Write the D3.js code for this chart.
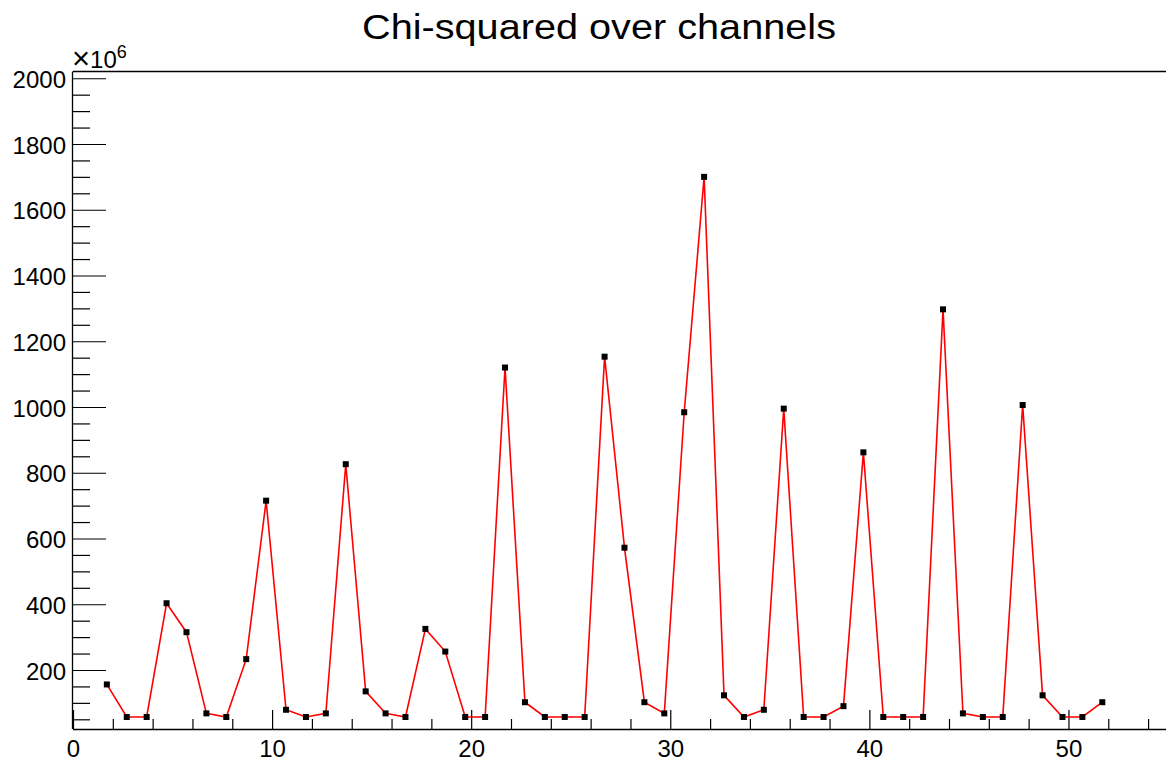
<!DOCTYPE html>
<html>
<head>
<meta charset="utf-8">
<script src="https://cdn.jsdelivr.net/npm/d3@7"></script>
<style>
  html, body { margin: 0; padding: 0; background: #fff; }
  svg { display: block; }
  text { font-family: "Liberation Sans", Arial, Helvetica, sans-serif; fill: #000; }
</style>
</head>
<body>
<svg id="chart" width="1166" height="762"></svg>
<script>
// ---- data ----
const channels = [1.7, 2.7, 3.7, 4.7, 5.7, 6.7, 7.7, 8.7, 9.7, 10.7,
                  11.7, 12.7, 13.7, 14.7, 15.7, 16.7, 17.7, 18.7, 19.7, 20.7,
                  21.7, 22.7, 23.7, 24.7, 25.7, 26.7, 27.7, 28.7, 29.7, 30.7,
                  31.7, 32.7, 33.7, 34.7, 35.7, 36.7, 37.7, 38.7, 39.7, 40.7,
                  41.7, 42.7, 43.7, 44.7, 45.7, 46.7, 47.7, 48.7, 49.7, 50.7,
                  51.7];
const chi2 = [156, 57, 57, 403, 315, 68, 57, 233, 715, 79,
              57, 68, 826, 135, 68, 57, 325, 256, 57, 57,
              1120, 102, 57, 57, 57, 1153, 572, 102, 68, 984,
              1700, 123, 57, 79, 995, 57, 57, 90, 862, 57,
              57, 57, 1297, 68, 57, 57, 1006, 123, 57, 57,
              102];
const xMajorTicks = [0, 10, 20, 30, 40, 50];
const yMajorTicks = [200, 400, 600, 800, 1000, 1200, 1400, 1600, 1800, 2000];
const titleText = "Chi-squared over channels";

// ---- layout ----
const svg = d3.select("#chart");
const mLeft = 73, mRight = 1168, mTop = 71.5, mBottom = 729;

const x = d3.scaleLinear().domain([0, 55]).range([mLeft, mRight]);
const y = d3.scaleLinear().domain([20.5, 2020.5]).range([mBottom, mTop]);

// minor tick values derived from axis ranges
const xMinor = d3.range(0, 55, 2).filter(v => v % 10 !== 0);
const yMinor = d3.range(50, 2001, 50).filter(v => v % 200 !== 0);

// frame (top line)
svg.append("line")
  .attr("x1", mLeft).attr("x2", 1166)
  .attr("y1", mTop).attr("y2", mTop)
  .attr("stroke", "#000").attr("stroke-width", 1.3);

// x axis
const xAxisMajor = d3.axisBottom(x).tickValues(xMajorTicks).tickSize(-19).tickPadding(11)
  .tickFormat(d3.format("d"));
const gx = svg.append("g").attr("transform", `translate(0,${mBottom})`).call(xAxisMajor);
gx.select(".domain").attr("d", `M${mLeft},0.5H1166`).attr("stroke", "#000").attr("stroke-width", 1.3);
gx.selectAll(".tick line").attr("stroke", "#000").attr("stroke-width", 1.2);
gx.selectAll(".tick text").attr("font-size", 24).attr("fill", "#000");

const xAxisMinor = d3.axisBottom(x).tickValues(xMinor).tickSize(-10).tickFormat("");
const gxm = svg.append("g").attr("transform", `translate(0,${mBottom})`).call(xAxisMinor);
gxm.select(".domain").remove();
gxm.selectAll(".tick line").attr("stroke", "#000").attr("stroke-width", 1.2);

// y axis
const yAxisMajor = d3.axisLeft(y).tickValues(yMajorTicks).tickSize(-33).tickPadding(7)
  .tickFormat(d3.format("d"));
const gy = svg.append("g").attr("transform", `translate(${mLeft},0)`).call(yAxisMajor);
gy.select(".domain").attr("d", `M-0.5,${mTop}V${mBottom}`).attr("stroke", "#000").attr("stroke-width", 1.3);
gy.selectAll(".tick line").attr("stroke", "#000").attr("stroke-width", 1.2);
gy.selectAll(".tick text").attr("font-size", 24).attr("dy", "0.38em").attr("fill", "#000");

const yAxisMinor = d3.axisLeft(y).tickValues(yMinor).tickSize(-17).tickFormat("");
const gym = svg.append("g").attr("transform", `translate(${mLeft},0)`).call(yAxisMinor);
gym.select(".domain").remove();
gym.selectAll(".tick line").attr("stroke", "#000").attr("stroke-width", 1.2);

// exponent label
const expo = svg.append("text").attr("x", 72).attr("y", 68).attr("font-size", 24);
expo.append("tspan").attr("font-size", 31).attr("dy", 1).text("\u00d7");
expo.append("tspan").attr("dy", -1).text("10");
expo.append("tspan").attr("dy", -10).attr("font-size", 18).text("6");

// title
svg.append("text")
  .attr("x", 599).attr("y", 39)
  .attr("text-anchor", "middle")
  .attr("font-size", 35)
  .attr("textLength", 474)
  .attr("lengthAdjust", "spacingAndGlyphs")
  .text(titleText);

// data line
const pts = channels.map((c, i) => [c, chi2[i]]);
const line = d3.line().x(d => x(d[0])).y(d => y(d[1]));
svg.append("path")
  .datum(pts)
  .attr("d", line)
  .attr("fill", "none")
  .attr("stroke", "#ff0000")
  .attr("stroke-width", 1.6);

// markers
svg.append("g").selectAll("rect")
  .data(pts)
  .join("rect")
  .attr("x", d => x(d[0]) - 3)
  .attr("y", d => y(d[1]) - 3)
  .attr("width", 6).attr("height", 6)
  .attr("fill", "#000");
</script>
</body>
</html>
